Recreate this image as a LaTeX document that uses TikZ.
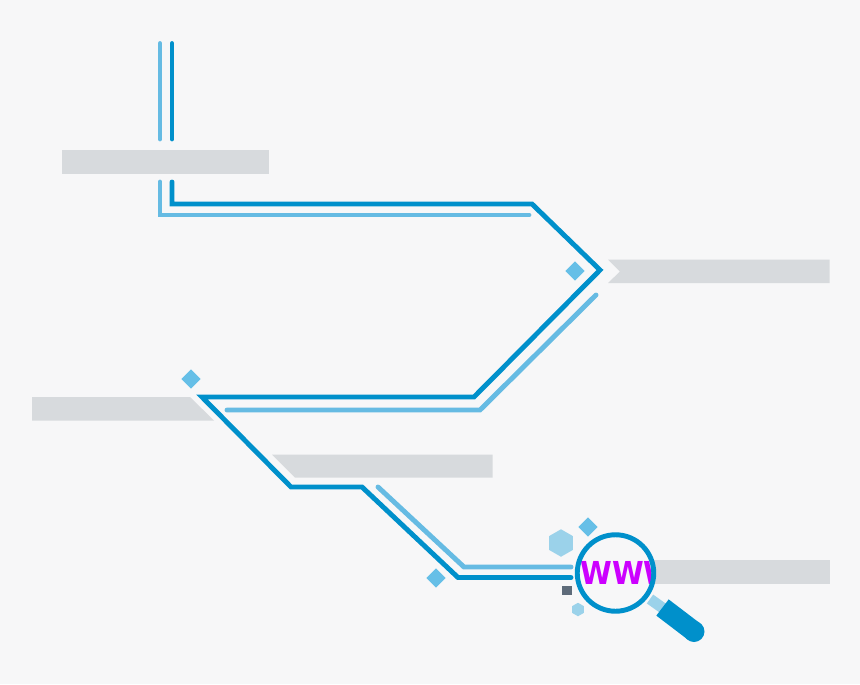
\documentclass[tikz,border=0pt]{standalone}
\usepackage{xcolor}
\usepackage{fontspec}
\usepackage{tikz}
\usetikzlibrary{shapes.geometric}
\setmainfont{Liberation Sans}
\newfontfamily\wwwfont[FakeStretch=0.91]{DejaVu Sans}
\definecolor{pagebg}{HTML}{F7F7F8}
\definecolor{bardark}{HTML}{D7DADD}
\definecolor{routedark}{HTML}{0090CB}
\definecolor{routelight}{HTML}{66BBE3}
\definecolor{gemblue}{HTML}{66BFE7}
\definecolor{hexblue}{HTML}{9BD2EA}
\definecolor{dotgrey}{HTML}{5E6B7A}
\definecolor{wwwpink}{HTML}{CC00FF}

\begin{document}
\begin{tikzpicture}[x=0.02cm, y=-0.02cm,
    darkroute/.style={draw=routedark, line width=2.8pt, line cap=round, miter limit=10},
    lightroute/.style={draw=routelight, line width=2.8pt, line cap=round},
    gem/.style={diamond, fill=gemblue, inner sep=0pt, minimum width=0.39cm, minimum height=0.39cm},
    hexa/.style={regular polygon, regular polygon sides=6, shape border rotate=30, fill=hexblue, inner sep=0pt}]
    \fill[pagebg] (0,0) rectangle (860,684);
    \useasboundingbox (0,0) rectangle (860,684);

    \fill[bardark] (62,150) rectangle (268.5,173.5);
    \fill[bardark] (608,259.5) -- (829.5,259.5) -- (829.5,283) -- (608,283) -- (620,271.5) -- cycle;
    \fill[bardark] (32,397) -- (190,397) -- (214,420.5) -- (32,420.5) -- cycle;
    \fill[bardark] (272,454.5) -- (492.5,454.5) -- (492.5,477.5) -- (295,477.5) -- cycle;
    \fill[bardark] (640,560) rectangle (829.5,583.5);

    \coordinate (topdarka) at (172,43.5);
    \coordinate (topdarkb) at (172,139);
    \coordinate (toplighta) at (160,43.5);
    \coordinate (toplightb) at (160,139);
    \coordinate (start) at (172,182);
    \coordinate (bend1) at (172,204);
    \coordinate (bend2) at (532,204);
    \coordinate (tipright) at (600,270);
    \coordinate (bend3) at (474,397);
    \coordinate (tipleft) at (202,397);
    \coordinate (bend4) at (291,487);
    \coordinate (bend5) at (362,487);
    \coordinate (bend6) at (458,577.5);
    \coordinate (finish) at (571,577.5);
    \coordinate (lighta) at (160,182);
    \coordinate (lightb) at (160,215);
    \coordinate (lightc) at (529,215);
    \coordinate (lightd) at (596,295);
    \coordinate (lighte) at (480,410);
    \coordinate (lightf) at (227,410);
    \coordinate (lightg) at (378,487);
    \coordinate (lighth) at (464,567);
    \coordinate (lighti) at (571,567);

    \draw[lightroute] (toplighta) -- (toplightb);
    \draw[darkroute] (topdarka) -- (topdarkb);
    \draw[lightroute] (lighta) -- (lightb) -- (lightc);
    \draw[lightroute] (lightd) -- (lighte) -- (lightf);
    \draw[lightroute] (lightg) -- (lighth) -- (lighti);
    \draw[darkroute] (start) -- (bend1) -- (bend2) -- (tipright) -- (bend3) -- (tipleft) -- (bend4) -- (bend5) -- (bend6) -- (finish);

    \node (gem1) [gem] at (575,271) {};
    \node (gem2) [gem] at (191,379) {};
    \node (gem3) [gem] at (436,578) {};
    \node (gem4) [gem] at (588,527) {};
    \node (hexbig) [hexa, minimum size=0.55cm] at (561,543) {};
    \node (hexsmall) [hexa, minimum size=0.27cm] at (578,609.5) {};
    \node (dot) [rectangle, fill=dotgrey, inner sep=0pt, minimum size=0.19cm] at (567,590.5) {};

    \coordinate (neckstart) at (650,599);
    \coordinate (neckend) at (664,609);
    \coordinate (handlestart) at (662.5,607.5);
    \coordinate (handleend) at (694,631.5);
    \draw[hexblue, line width=6.2pt] (neckstart) -- (neckend);
    \draw[routedark, line width=11.6pt] (handlestart) -- (handleend);
    \node (handlecap) [circle, fill=routedark, inner sep=0pt, minimum size=0.42cm] at (handleend) {};

    \fill[pagebg] (615.5,573) circle (38);
    \begin{scope}
        \clip (615.5,573) circle (38);
        \node (www) [anchor=west, inner sep=0pt, text=wwwpink, font=\wwwfont\fontsize{18pt}{20pt}\selectfont\bfseries] at (580,572.5) {WWW};
    \end{scope}
    \node (lens) [circle, draw=routedark, line width=2.8pt, inner sep=0pt, minimum size=1.53cm] at (615.5,573) {};
\end{tikzpicture}
\end{document}
